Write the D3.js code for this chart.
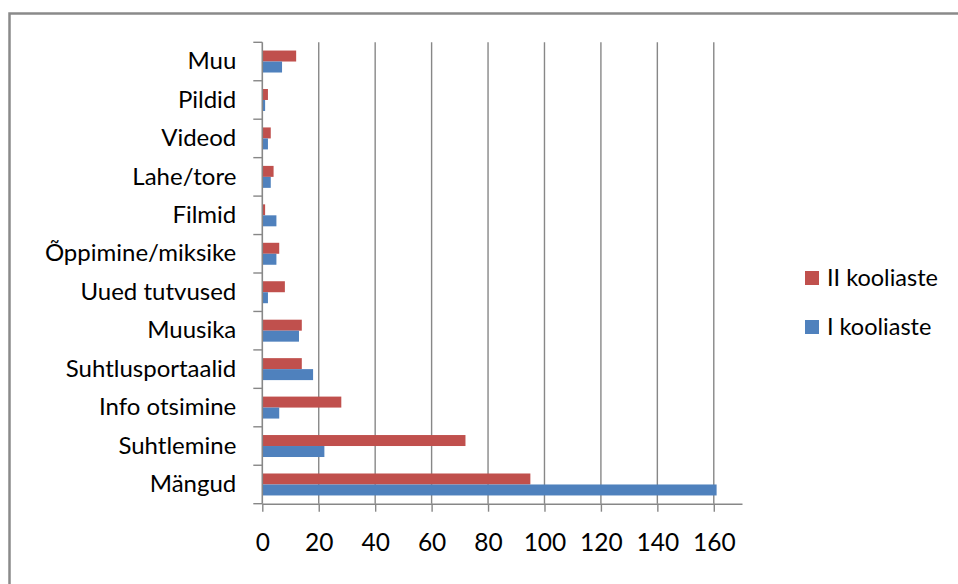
<!DOCTYPE html>
<html>
<head>
<meta charset="utf-8">
<script src="https://cdn.jsdelivr.net/npm/d3@7"></script>
<style>
  html, body { margin: 0; padding: 0; background: #fff; }
  svg { display: block; }
  text { font-family: Lato, "Open Sans", sans-serif; fill: #000; }
</style>
</head>
<body>
<svg id="chart" width="958" height="584"></svg>
<script>
// Internet usage reasons by school stage (counts)
const categories = ["Mängud", "Suhtlemine", "Info otsimine", "Suhtlusportaalid", "Muusika",
  "Uued tutvused", "Õppimine/miksike", "Filmid", "Lahe/tore", "Videod", "Pildid", "Muu"];
const seriesI = [161, 22, 6, 18, 13, 2, 5, 5, 3, 2, 1, 7];
const seriesII = [95, 72, 28, 14, 14, 8, 6, 1, 4, 3, 2, 12];
const seriesNames = ["II kooliaste", "I kooliaste"];
const xTicks = [0, 20, 40, 60, 80, 100, 120, 140, 160];

const colors = { "II kooliaste": "#C0504D", "I kooliaste": "#4F81BD" };
const axisColor = "#878787";

const svg = d3.select("#chart");

// outer chart frame
svg.append("rect")
  .attr("x", 9.5).attr("y", 13.5)
  .attr("width", 980).attr("height", 620)
  .attr("fill", "none").attr("stroke", "#8a8a8a").attr("stroke-width", 2.5);

const plot = { left: 262.3, right: 742, top: 42.3, bottom: 503.7 };

const x = d3.scaleLinear().domain([0, 170]).range([plot.left, plot.right]);
const y = d3.scaleBand().domain(categories.slice().reverse())
  .range([plot.top, plot.bottom]).paddingInner(0).paddingOuter(0);
const sub = d3.scaleBand().domain(seriesNames)
  .range([0, y.bandwidth()]).paddingInner(0).paddingOuter(0.75);

// vertical gridlines
svg.append("g").selectAll("line")
  .data(xTicks.filter(d => d > 0))
  .join("line")
  .attr("x1", d => x(d)).attr("x2", d => x(d))
  .attr("y1", plot.top).attr("y2", plot.bottom)
  .attr("stroke", axisColor).attr("stroke-width", 1.4);

// bars
const rows = categories.map((c, i) => ({ cat: c, "I kooliaste": seriesI[i], "II kooliaste": seriesII[i] }));
const barG = svg.append("g");
seriesNames.forEach(s => {
  barG.selectAll(null)
    .data(rows)
    .join("rect")
    .attr("x", x(0))
    .attr("y", d => y(d.cat) + sub(s))
    .attr("width", d => x(d[s]) - x(0))
    .attr("height", sub.bandwidth())
    .attr("fill", colors[s]);
});

// bottom axis
const xAxis = d3.axisBottom(x).tickValues(xTicks).tickSize(8).tickPadding(22).tickSizeOuter(0);
const gx = svg.append("g").attr("transform", `translate(0,${plot.bottom})`).call(xAxis);
gx.select(".domain").attr("stroke", axisColor).attr("stroke-width", 1.4);
gx.selectAll(".tick line").attr("stroke", axisColor).attr("stroke-width", 1.4);
gx.selectAll(".tick text").attr("font-size", 24.5).attr("font-family", "Lato, sans-serif").attr("fill", "#000");

// left axis: labels at band centres, ticks at band boundaries
const yAxis = d3.axisLeft(y).tickSize(0).tickPadding(26);
const gy = svg.append("g").attr("transform", `translate(${plot.left},0)`).call(yAxis);
gy.select(".domain").remove();
gy.selectAll(".tick text").attr("font-size", 24).attr("font-family", "Lato, sans-serif").attr("fill", "#000");

const bounds = y.domain().map(c => y(c)).concat([plot.bottom]);
svg.append("g").selectAll("line")
  .data(bounds)
  .join("line")
  .attr("x1", plot.left - 9).attr("x2", plot.left)
  .attr("y1", d => d).attr("y2", d => d)
  .attr("stroke", axisColor).attr("stroke-width", 1.4);
svg.append("line")
  .attr("x1", plot.left).attr("x2", plot.left)
  .attr("y1", plot.top).attr("y2", plot.bottom)
  .attr("stroke", axisColor).attr("stroke-width", 1.6);

// legend
const legend = svg.append("g");
seriesNames.forEach((s, i) => {
  const cy = 278 + i * 49;
  legend.append("rect")
    .attr("x", 805).attr("y", cy - 7).attr("width", 14).attr("height", 14)
    .attr("fill", colors[s]);
  legend.append("text")
    .attr("x", 827).attr("y", cy).attr("dy", "0.35em")
    .attr("font-size", 23.5).text(s);
});
</script>
</body>
</html>
